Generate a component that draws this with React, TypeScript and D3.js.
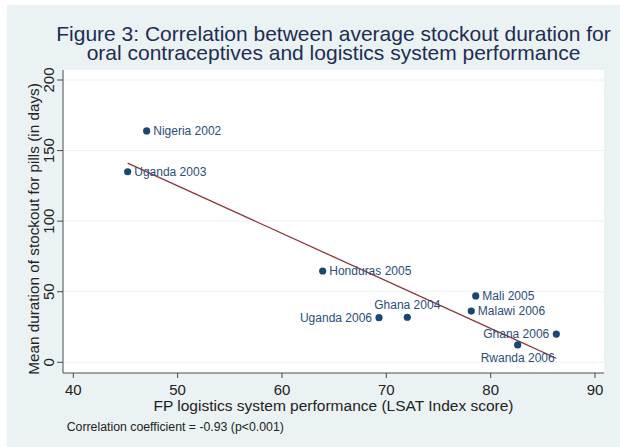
import React from "react";
import * as d3 from "d3";

const countries = ["Nigeria 2002", "Uganda 2003", "Honduras 2005", "Uganda 2006", "Ghana 2004", "Mali 2005", "Malawi 2006", "Ghana 2006", "Rwanda 2006"];
const lsatScore = [47.03, 45.21, 63.9, 69.3, 72.01, 78.57, 78.14, 86.29, 82.59];
const stockoutDays = [163.9, 135.0, 64.7, 31.6, 31.9, 47.0, 36.3, 20.0, 12.3];
const labelPos = ["right", "right", "right", "left", "top", "right", "right", "left", "bottom"];
const xTicks = [40, 50, 60, 70, 80, 90];
const yTicks = [0, 50, 100, 150, 200];
const titleLines = ["Figure 3: Correlation between average stockout duration for", "oral contraceptives and logistics system performance"];
const xTitle = "FP logistics system performance (LSAT Index score)";
const yTitle = "Mean duration of stockout for pills (in days)";
const note = "Correlation coefficient = -0.93 (p<0.001)";

const FONT = "'Liberation Sans', Arial, Helvetica, sans-serif";

export default function App() {
  const W = 620, H = 447;
  const plot = { left: 63, right: 604, top: 70, bottom: 373 };
  const x = d3.scaleLinear().domain([40, 90]).range([73.3, 595]);
  const y = d3.scaleLinear().domain([0, 200]).range([362.3, 80]);

  // least-squares fit
  const mx = d3.mean(lsatScore) as number;
  const my = d3.mean(stockoutDays) as number;
  let sxy = 0, sxx = 0;
  lsatScore.forEach((v, i) => { sxy += (v - mx) * (stockoutDays[i] - my); sxx += (v - mx) ** 2; });
  const slope = sxy / sxx;
  const intercept = my - slope * mx;
  const [xmin, xmax] = d3.extent(lsatScore) as [number, number];
  const fitLine = d3.line<number>().x((d) => x(d)).y((d) => y(intercept + slope * d));

  const axisColor = "#4a4a4a";
  const labelColor = "#2a4d7c";
  const markerColor = "#1a476f";

  return (
    <svg width={W} height={H} style={{ position: "absolute", left: 0, top: 0, display: "block" }} fontFamily={FONT}>
      <rect x={0} y={0} width={W} height={H} fill="#ffffff" />
      <rect x={7} y={5} width={W - 7} height={H - 5} fill="#eaf2f3" />
      <rect x={plot.left} y={plot.top} width={plot.right - plot.left} height={plot.bottom - plot.top} fill="#ffffff" />
      {yTicks.map((t) => (
        <line key={"g" + t} x1={plot.left} x2={plot.right} y1={y(t)} y2={y(t)} stroke="#eaf2f3" strokeWidth={1} />
      ))}
      {/* title */}
      {titleLines.map((t, i) => (
        <text key={t} x={333.5} y={41 + i * 19} textAnchor="middle" fontSize={21} fill="#1e2d53">{t}</text>
      ))}
      {/* y axis */}
      <line x1={plot.left} x2={plot.left} y1={plot.top} y2={plot.bottom} stroke={axisColor} strokeWidth={1} />
      {yTicks.map((t) => (
        <g key={"y" + t}>
          <line x1={57} x2={plot.left} y1={y(t)} y2={y(t)} stroke={axisColor} strokeWidth={1} />
          <text transform={`translate(54,${y(t)}) rotate(-90)`} textAnchor="middle" fontSize={15} fill="#222">{t}</text>
        </g>
      ))}
      <text transform={`translate(38.5,229) rotate(-90)`} textAnchor="middle" fontSize={15.3} fill="#222">{yTitle}</text>
      {/* x axis */}
      <line x1={plot.left} x2={plot.right} y1={plot.bottom} y2={plot.bottom} stroke={axisColor} strokeWidth={1} />
      {xTicks.map((t) => (
        <g key={"x" + t}>
          <line x1={x(t)} x2={x(t)} y1={plot.bottom} y2={plot.bottom + 5} stroke={axisColor} strokeWidth={1} />
          <text x={x(t)} y={395} textAnchor="middle" fontSize={15} fill="#222">{t}</text>
        </g>
      ))}
      <text x={333.5} y={410.7} textAnchor="middle" fontSize={15.5} fill="#222">{xTitle}</text>
      <text x={66.7} y={430.7} fontSize={12.3} fill="#222">{note}</text>
      {/* fit line */}
      <path d={fitLine([xmin, xmax]) as string} stroke="#90353b" strokeWidth={1.3} fill="none" />
      {/* points */}
      {lsatScore.map((v, i) => {
        const cx = x(v), cy = y(stockoutDays[i]);
        const pos = labelPos[i];
        let tx = cx + 6.6, ty = cy + 4.2, anchor: "start" | "middle" | "end" = "start";
        if (pos === "left") { tx = cx - 7; anchor = "end"; }
        else if (pos === "top") { tx = cx; ty = cy - 8; anchor = "middle"; }
        else if (pos === "bottom") { tx = cx; ty = cy + 16.7; anchor = "middle"; }
        return (
          <g key={countries[i]}>
            <circle cx={cx} cy={cy} r={3.6} fill={markerColor} />
            <text x={tx} y={ty} textAnchor={anchor} fontSize={12} fill={labelColor}>{countries[i]}</text>
          </g>
        );
      })}
    </svg>
  );
}
